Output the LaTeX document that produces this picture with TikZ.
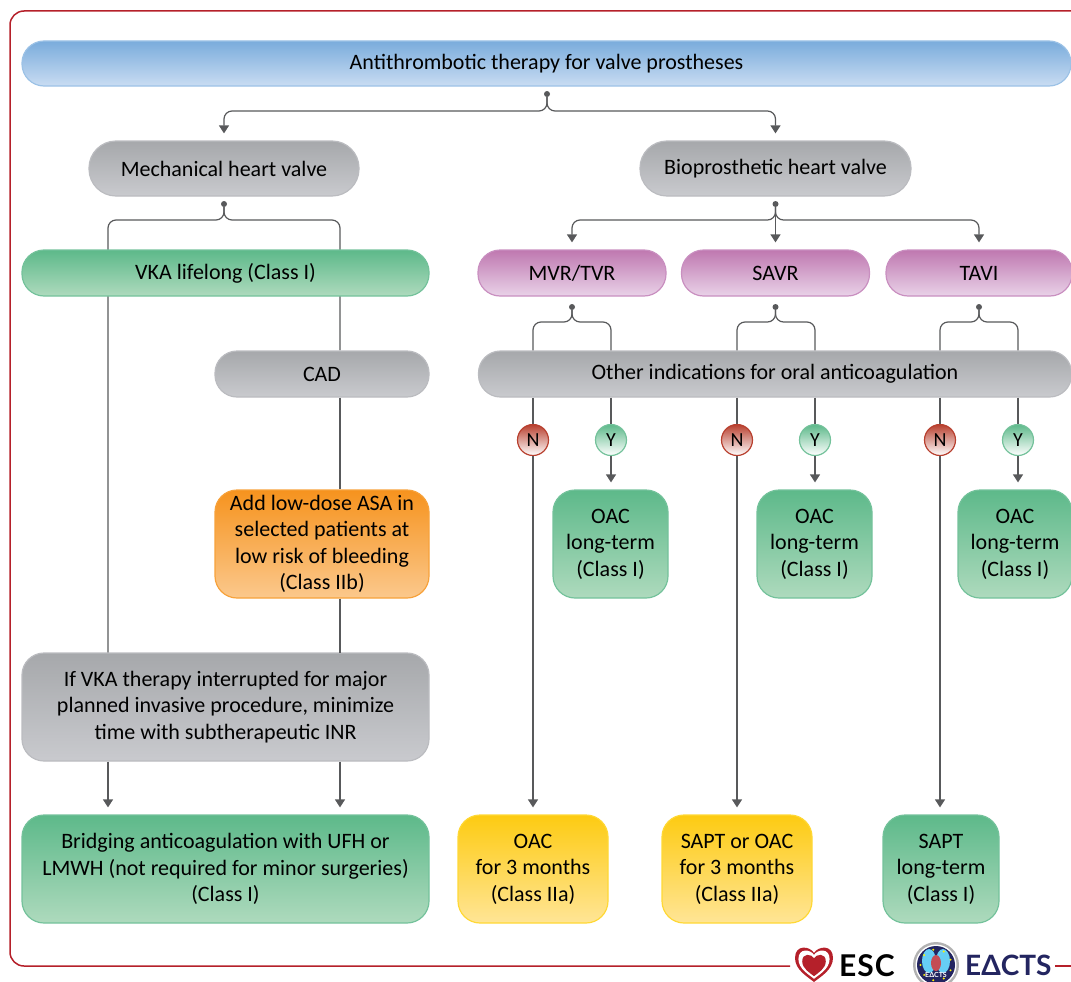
\documentclass[tikz,border=0pt]{standalone}
\usepackage{fontspec}
\setmainfont{Carlito}
\newfontfamily\logofont{Lato}
\usetikzlibrary{calc,arrows.meta,backgrounds}
\definecolor{framered}{HTML}{B5202A}
\definecolor{linegrey}{HTML}{58595B}
\definecolor{navy}{HTML}{232560}
\definecolor{bluetop}{HTML}{7AACDC}
\definecolor{bluelow}{HTML}{C9DCF2}
\definecolor{blueedge}{HTML}{9CC2E6}
\definecolor{greytop}{HTML}{A6A8AB}
\definecolor{greylow}{HTML}{C9CACE}
\definecolor{greyedge}{HTML}{BBBCC0}
\definecolor{greentop}{HTML}{5DB98A}
\definecolor{greenlow}{HTML}{AEDABD}
\definecolor{greenedge}{HTML}{74C29B}
\definecolor{purpletop}{HTML}{BF78B0}
\definecolor{purplelow}{HTML}{E9D2E8}
\definecolor{purpleedge}{HTML}{C98FC0}
\definecolor{orangetop}{HTML}{F6931E}
\definecolor{orangelow}{HTML}{FBC88C}
\definecolor{orangeedge}{HTML}{F7A23B}
\definecolor{yellowtop}{HTML}{FDCB12}
\definecolor{yellowlow}{HTML}{FFE596}
\definecolor{yellowedge}{HTML}{FFD835}
\definecolor{notop}{HTML}{B8402F}
\tikzset{
  box/.style={draw, line width=1.2pt, align=center, inner sep=0pt, text=black,
    font=\fontsize{22}{26.5}\selectfont},
  sized/.style 2 args={minimum width=#1, minimum height=#2},
  pill/.style={box, rounded corners=22pt},
  card/.style={box, rounded corners=22pt},
  bluebox/.style={draw=blueedge, top color=bluetop, bottom color=bluelow},
  greybox/.style={draw=greyedge, top color=greytop, bottom color=greylow},
  greenbox/.style={draw=greenedge, top color=greentop, bottom color=greenlow},
  purplebox/.style={draw=purpleedge, top color=purpletop, bottom color=purplelow},
  orangebox/.style={draw=orangeedge, top color=orangetop, bottom color=orangelow},
  yellowbox/.style={draw=yellowedge, top color=yellowtop, bottom color=yellowlow},
  answer/.style={circle, draw, line width=1.2pt, inner sep=0pt, minimum size=31pt,
    font=\fontsize{20}{20}\selectfont, bottom color=white},
  no/.style={answer, draw=notop, top color=notop},
  yes/.style={answer, draw=greenedge, top color=greentop},
  forkdot/.style={circle, fill=linegrey, inner sep=0pt, minimum size=6pt},
  link/.style={draw=linegrey, line width=1.2pt},
  arrowed/.style={link, -{Triangle[width=10pt,length=8pt]}, shorten >=7pt},
  fork/.style={rounded corners=8pt},
}
\begin{document}
\begin{tikzpicture}[x=1pt,y=-1pt]
  \useasboundingbox (0,0) rectangle (1071,982);
  \def\heartshape{(0,-11) .. controls (-4,-18) and (-19,-20) .. (-19,-6)
    .. controls (-19,6) and (-6,13) .. (0,18) .. controls (6,13) and (19,6) .. (19,-6)
    .. controls (19,-20) and (4,-18) .. (0,-11) -- cycle}

  \draw[framered, line width=1.5pt, rounded corners=14pt] (1072,11) -- (10,11) -- (10,966) -- (790,966);
  \draw[framered, line width=1.5pt] (1055,966) -- (1072,966);

  \node[pill, bluebox, sized={1049pt}{45pt}] (root) at (546.5,63.5) {Antithrombotic therapy for valve prostheses};
  \node[pill, greybox, rounded corners=27pt, sized={270pt}{55pt}] (mech) at (224,168.5) {Mechanical heart valve};
  \node[pill, greybox, rounded corners=27pt, sized={271pt}{55pt}] (bio) at (775.5,168.5) {Bioprosthetic heart valve};

  \node[pill, greenbox, sized={407pt}{46pt}] (vka) at (225.5,273) {VKA lifelong (Class I)};
  \node[pill, purplebox, sized={188pt}{46pt}] (mvr) at (572,273) {MVR/TVR};
  \node[pill, purplebox, sized={188pt}{46pt}] (savr) at (775.5,273) {SAVR};
  \node[pill, purplebox, sized={186pt}{46pt}] (tavi) at (979,273) {TAVI};

  \node[pill, greybox, sized={214pt}{46pt}] (cad) at (322,374) {CAD};
  \node[pill, greybox, sized={593pt}{46pt}] (other) at (775,374) {Other indications for oral anticoagulation};

  \node[no] (n1) at (533,440) {N};
  \node[yes] (y1) at (611,440) {Y};
  \node[no] (n2) at (737,440) {N};
  \node[yes] (y2) at (815,440) {Y};
  \node[no] (n3) at (940,440) {N};
  \node[yes] (y3) at (1018,440) {Y};

  \node[card, orangebox, sized={214pt}{108pt}] (asa) at (322,544) {Add low-dose ASA in\\selected patients at\\low risk of bleeding\\(Class IIb)};
  \node[card, greenbox, sized={115pt}{108pt}] (oac1) at (610.5,544) {OAC\\long-term\\(Class I)};
  \node[card, greenbox, sized={115pt}{108pt}] (oac2) at (814.5,544) {OAC\\long-term\\(Class I)};
  \node[card, greenbox, sized={114pt}{108pt}] (oac3) at (1015,544) {OAC\\long-term\\(Class I)};

  \node[card, greybox, sized={407pt}{108pt}] (inr) at (225.5,707) {If VKA therapy interrupted for major\\planned invasive procedure, minimize\\time with subtherapeutic INR};
  \node[card, greenbox, sized={407pt}{108pt}] (bridge) at (225.5,869) {Bridging anticoagulation with UFH or\\LMWH (not required for minor surgeries)\\(Class I)};
  \node[card, yellowbox, sized={150pt}{108pt}] (three1) at (533,869) {OAC\\for 3 months\\(Class IIa)};
  \node[card, yellowbox, sized={150pt}{108pt}] (three2) at (737,869) {SAPT or OAC\\for 3 months\\(Class IIa)};
  \node[card, greenbox, sized={116pt}{108pt}] (sapt) at (941,869) {SAPT\\long-term\\(Class I)};

  \node[forkdot] (droot) at (547,94) {};
  \node[forkdot] (dmech) at (224,204) {};
  \node[forkdot] (dbio) at (775.5,204) {};
  \node[forkdot] (dmvr) at (572,307) {};
  \node[forkdot] (dsavr) at (775.5,307) {};
  \node[forkdot] (dtavi) at (979,307) {};
  \coordinate (colL) at (108,653);
  \coordinate (colR) at (340,653);

  \draw[arrowed, fork] (droot) -- ++(0,17) -| (mech.north);
  \draw[arrowed, fork] (droot) -- ++(0,17) -| (bio.north);
  \draw[arrowed, fork] (dbio) -- ++(0,16) -| (mvr.north);
  \draw[arrowed] (dbio) -- (savr.north);
  \draw[arrowed, fork] (dbio) -- ++(0,16) -| (tavi.north);

  \begin{scope}[on background layer]
    \draw[link, fork] (dmech) -- ++(0,16) -| (colL);
    \draw[link, fork] (dmech) -- ++(0,16) -| (colR |- cad.north);
  \end{scope}
  \draw[link] (colR |- cad.south) -- (colR |- asa.north);
  \draw[link] (colR |- asa.south) -- (colR);
  \draw[arrowed] (colL |- inr.south) -- (colL |- bridge.north);
  \draw[arrowed] (colR |- inr.south) -- (colR |- bridge.north);

  \foreach \d/\n/\y/\ny/\last in {dmvr/n1/y1/oac1/three1, dsavr/n2/y2/oac2/three2, dtavi/n3/y3/oac3/sapt} {
    \draw[link, fork] (\d) -- ++(0,15) -| (\n |- other.north);
    \draw[link, fork] (\d) -- ++(0,15) -| (\y |- other.north);
    \draw[link] (\n |- other.south) -- (\n);
    \draw[link] (\y |- other.south) -- (\y);
    \draw[arrowed] (\n) -- (\n |- \last.north);
    \draw[arrowed] (\y) -- (\y |- \ny.north);
  }

  % logos
  \fill[framered, shift={(814,964)}] \heartshape;
  \fill[white, shift={(814,964)}, scale=0.82] \heartshape;
  \fill[framered, shift={(814,965)}, scale=0.62] \heartshape;
  \node[font=\logofont\bfseries\fontsize{30}{30}\selectfont, inner sep=0pt, anchor=west] (esc) at (839,966) {E\hspace{1pt}S\hspace{1pt}C};

  \fill[black!30] (936,965) circle (23);
  \fill[white] (936,965) circle (20.5);
  \fill[navy] (936,965) circle (19);
  \fill[cyan!60] (929,961) ellipse (7 and 12);
  \fill[cyan!60] (943,961) ellipse (7 and 12);
  \fill[framered!80] (936,963) ellipse (5 and 8);
  \foreach \a in {20,60,...,340} \fill[yellow] (936,965) ++(\a:15.5) circle (1.1);
  \node[font=\logofont\bfseries\fontsize{7}{7}\selectfont, text=white, inner sep=0pt] (badge) at (936,975) {EΔCTS};
  \node[font=\logofont\bfseries\fontsize{28}{28}\selectfont, text=navy, inner sep=0pt, anchor=west] (eacts) at (965,965) {EΔCTS};
\end{tikzpicture}
\end{document}
